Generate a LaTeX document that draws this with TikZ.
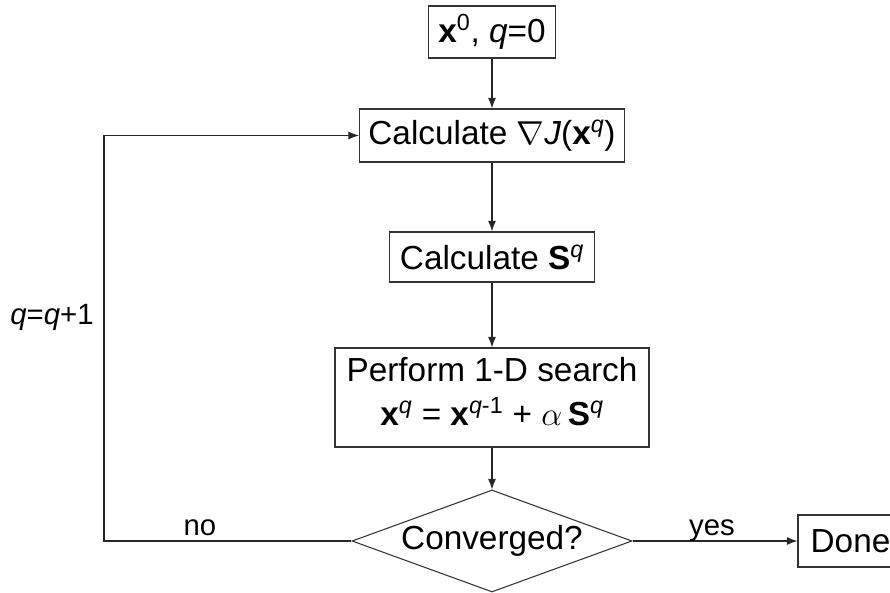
\documentclass[tikz,border=0pt]{standalone}
\usepackage{fontspec}
\setmainfont{Liberation Sans}
\usetikzlibrary{shapes.geometric,arrows.meta}
\begin{document}
\begin{tikzpicture}[x=0.75pt,y=-0.75pt,
  box/.style={draw=black!80, line width=0.8pt, inner sep=0pt, align=center,
    font=\fontsize{25}{29}\selectfont},
  lbl/.style={inner sep=0pt, anchor=base, font=\fontsize{22}{26}\selectfont},
  conn/.style={draw=black!85, line width=0.8pt, -{Latex[length=8pt,width=6pt]}}]
\useasboundingbox (0,0) rectangle (890,593);
\node[box, minimum width=95.25pt, minimum height=39pt] (init) at (492,32)
  {\textbf{x}\textsuperscript{0}, \textit{q}=0};
\node[box, minimum width=198.75pt, minimum height=39.75pt] (grad) at (492,135.5)
  {Calculate $\nabla$\textit{J}(\textbf{x}\textsuperscript{\textit{q}})};
\node[box, minimum width=153.75pt, minimum height=37.5pt] (dir) at (492,257)
  {Calculate \textbf{S}\textsuperscript{\textit{q}}};
\node[box, minimum width=235.5pt, minimum height=74.25pt, text depth=9pt] (search) at (492,397.5)
  {Perform 1-D search\\[4pt] \textbf{x}\textsuperscript{\textit{q}} = \textbf{x}\textsuperscript{\textit{q}-1} + $\alpha$\,\textbf{S}\textsuperscript{\textit{q}}};
\node[box, shape=diamond, aspect=2.75, minimum width=210pt, minimum height=76.5pt] (conv) at (492,541)
  {Converged?};
\node[box, minimum width=78.75pt, minimum height=39pt] (done) at (850.5,541) {Done};
\coordinate (loopc) at (104,541);
\draw[conn] (init) -- (grad);
\draw[conn] (grad) -- (dir);
\draw[conn] (dir) -- (search);
\draw[conn] (search) -- (conv);
\draw[conn] (conv.east) -- (done.west);
\draw[conn] (conv.west) -- (loopc) |- (grad.west);
\node[lbl] (nolbl) at (200,535) {no};
\node[lbl] (yeslbl) at (712,535) {yes};
\node[lbl] (inclbl) at (52,324) {\textit{q}=\textit{q}+1};
\end{tikzpicture}
\end{document}
